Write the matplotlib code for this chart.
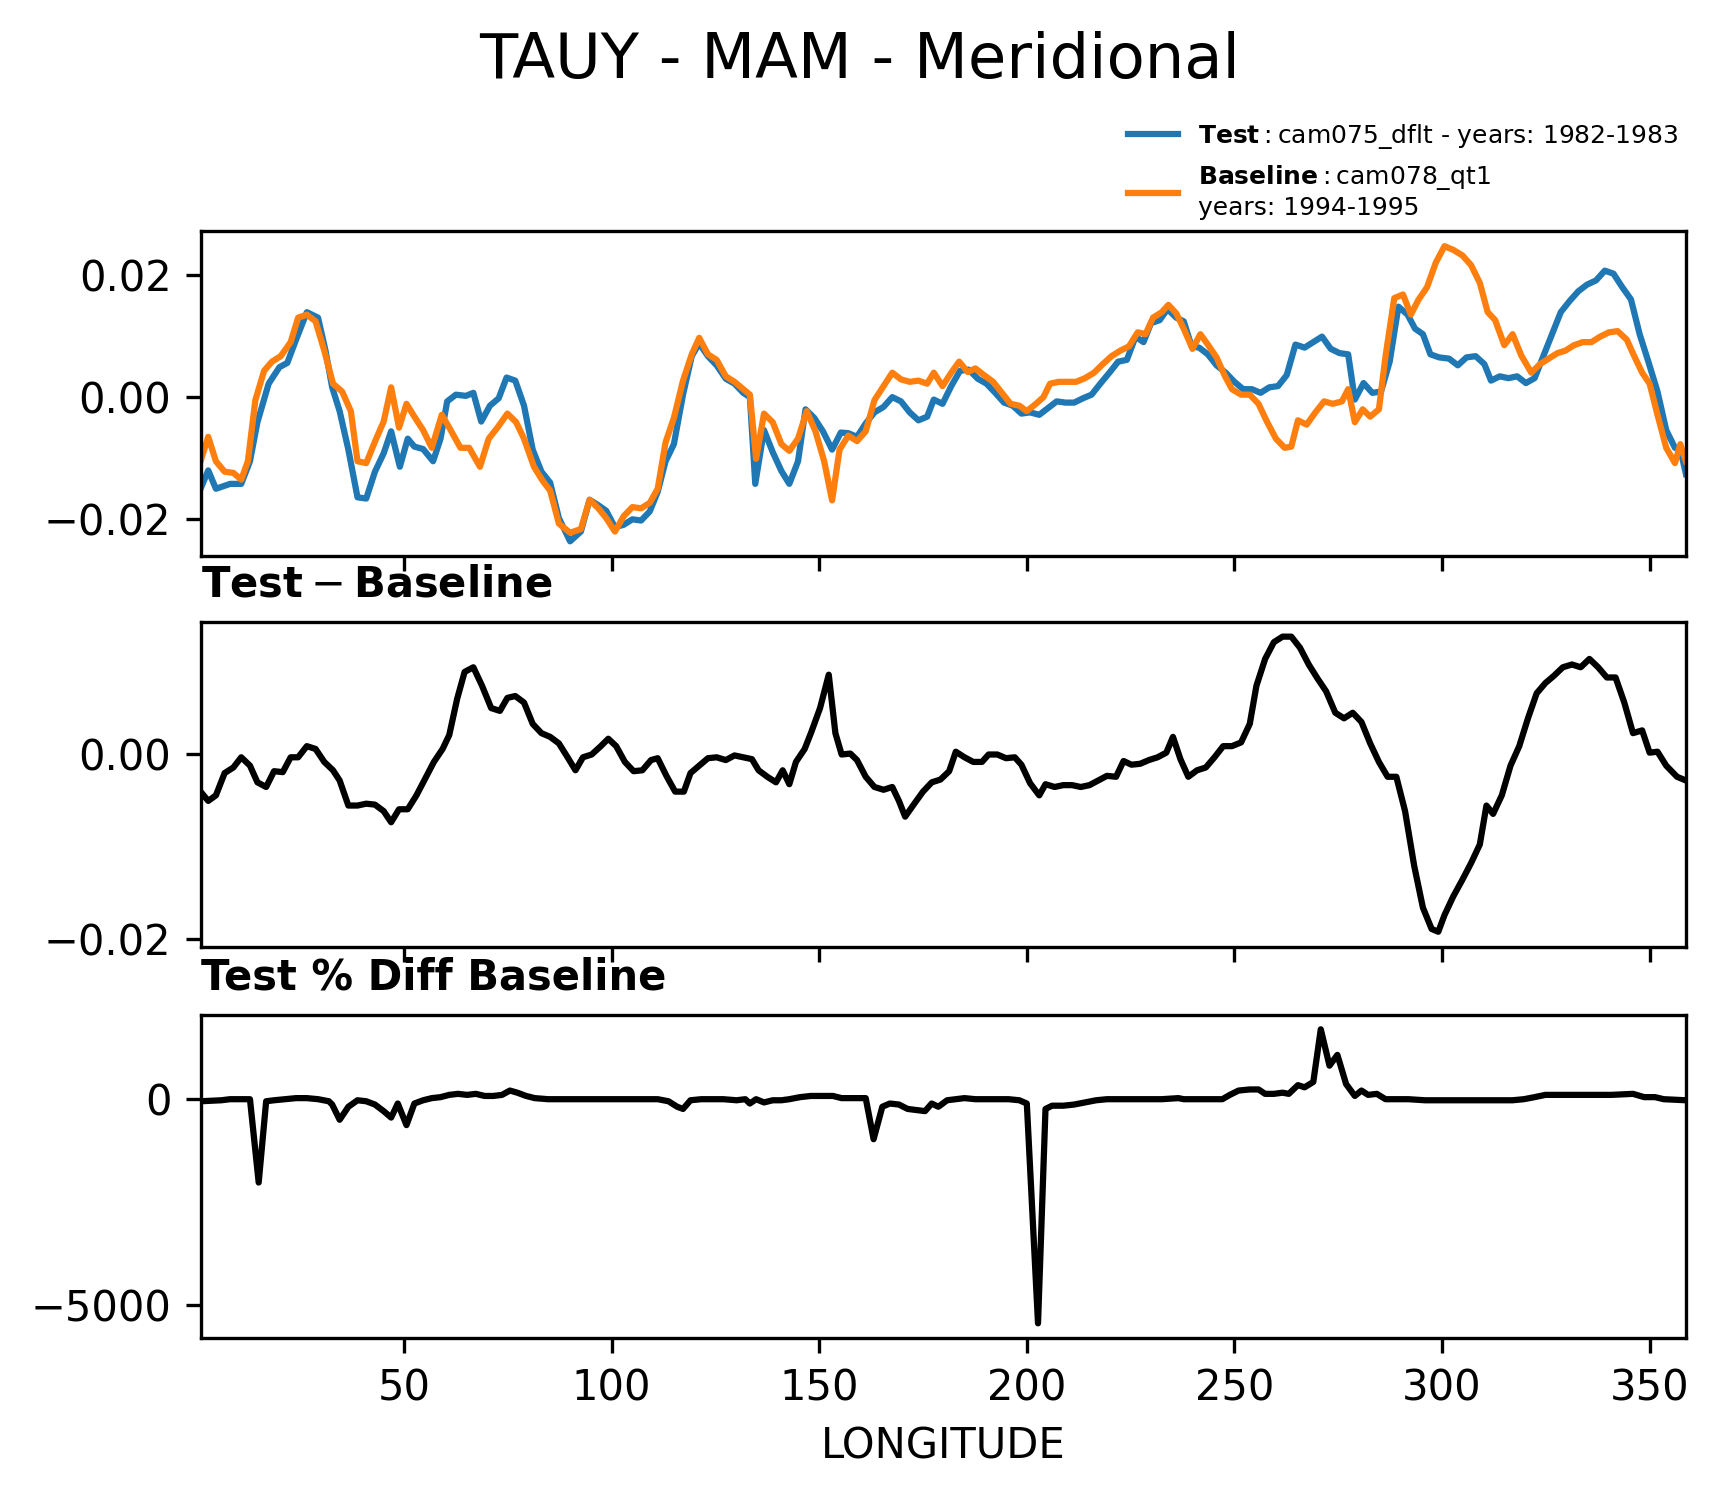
import numpy as np
import matplotlib
matplotlib.use("Agg")
import matplotlib.pyplot as plt

# ---------------- data ----------------
test_lon = [1.0, 2.85, 4.7, 8.13, 10.8, 12.9, 14.7, 17.4, 20.0, 21.9, 24.0, 26.6, 29.3, 31.1, 32.7,
            34.5, 36.6, 38.8, 40.9, 43.0, 45.1, 46.9, 49.0, 50.9, 52.5, 54.6, 57.0, 58.8, 60.4, 62.5,
            64.9, 66.7, 68.6, 70.7, 72.8, 74.7, 76.8, 78.9, 81.0, 83.1, 85.2, 87.3, 90.0, 92.6, 94.7,
            96.8, 98.7, 100.8, 102.9, 105.0, 107.1, 109.2, 111.1, 113.0, 115.0, 117.2, 119.3, 121.1,
            123.2, 125.3, 127.5, 129.6, 131.7, 133.3, 134.6, 136.7, 138.8, 140.9, 142.8, 144.9, 146.7,
            148.8, 150.9, 153.1, 155.2, 157.0, 159.1, 161.2, 163.3, 165.5, 167.6, 169.7, 171.8, 173.9,
            176.0, 177.6, 179.7, 181.8, 183.9, 186.0, 188.2, 190.3, 192.4, 194.5, 196.6, 198.7, 200.8,
            203.0, 205.1, 207.2, 209.3, 211.4, 213.5, 215.6, 217.7, 219.9, 222.0, 224.1, 226.2, 228.1,
            229.9, 232.0, 233.9, 236.0, 237.8, 239.7, 241.5, 243.6, 245.7, 247.9, 250.0, 252.1, 254.2,
            256.3, 258.4, 260.5, 262.6, 264.7, 266.9, 269.0, 271.1, 273.2, 275.3, 277.4, 279.0, 281.1,
            283.2, 285.3, 287.4, 289.5, 291.7, 293.5, 295.4, 297.2, 299.3, 301.7, 303.8, 305.9, 308.1,
            310.2, 311.8, 313.9, 316.0, 318.1, 320.2, 322.3, 324.4, 326.5, 328.6, 330.7, 332.8, 334.9,
            337.1, 339.2, 341.3, 343.4, 345.5, 347.6, 349.7, 351.9, 354.0, 356.1, 357.4, 358.75]
test_val = [-0.0150, -0.0120, -0.0150, -0.0142, -0.0142, -0.0105, -0.0041, 0.0022, 0.0049, 0.0056,
            0.0094, 0.0139, 0.0130, 0.0076, 0.0016, -0.0023, -0.0086, -0.0164, -0.0166, -0.0122,
            -0.0092, -0.0056, -0.0114, -0.0068, -0.0081, -0.0085, -0.0105, -0.0068, -0.0007, 0.0004,
            0.0002, 0.0007, -0.0040, -0.0014, -0.0002, 0.0032, 0.0027, -0.0014, -0.0086, -0.0122,
            -0.0140, -0.0198, -0.0236, -0.0220, -0.0168, -0.0177, -0.0186, -0.0213, -0.0209, -0.0200,
            -0.0202, -0.0187, -0.0155, -0.0105, -0.0077, 0.0004, 0.0067, 0.0088, 0.0067, 0.0052,
            0.0030, 0.0022, 0.0007, 0.0000, -0.0142, -0.0054, -0.0090, -0.0121, -0.0142, -0.0105,
            -0.0020, -0.0034, -0.0056, -0.0086, -0.0058, -0.0059, -0.0065, -0.0043, -0.0025, -0.0016,
            0.0000, -0.0007, -0.0025, -0.0038, -0.0032, -0.0004, -0.0011, 0.0018, 0.0043, 0.0045,
            0.0030, 0.0022, 0.0007, -0.0009, -0.0014, -0.0027, -0.0025, -0.0029, -0.0018, -0.0007,
            -0.0009, -0.0009, -0.0002, 0.0004, 0.0022, 0.0040, 0.0058, 0.0061, 0.0099, 0.0090,
            0.0121, 0.0126, 0.0144, 0.0130, 0.0124, 0.0083, 0.0081, 0.0070, 0.0052, 0.0040,
            0.0025, 0.0013, 0.0013, 0.0007, 0.0016, 0.0018, 0.0036, 0.0086, 0.0081, 0.0090,
            0.0099, 0.0079, 0.0072, 0.0070, -0.0004, 0.0023, 0.0007, 0.0009, 0.0058, 0.0148,
            0.0135, 0.0112, 0.0103, 0.0070, 0.0065, 0.0063, 0.0052, 0.0065, 0.0067, 0.0054,
            0.0027, 0.0034, 0.0031, 0.0034, 0.0023, 0.0031, 0.0067, 0.0103, 0.0139, 0.0157,
            0.0173, 0.0184, 0.0191, 0.0207, 0.0202, 0.0180, 0.0160, 0.0103, 0.0058, 0.0009,
            -0.0054, -0.0083, -0.0086, -0.0126]

base_lon = [1.0, 2.85, 4.7, 6.8, 8.9, 10.8, 12.4, 14.2, 16.3, 18.2, 20.3, 22.7, 24.5, 26.6, 28.7,
            30.8, 32.9, 35.1, 37.2, 38.8, 40.9, 43.3, 45.1, 46.9, 48.8, 50.6, 52.5, 54.6, 56.7, 59.1,
            60.9, 63.6, 65.7, 68.3, 70.4, 72.5, 74.9, 77.0, 78.9, 81.3, 83.4, 85.2, 87.3, 90.0, 92.6,
            94.7, 96.8, 98.7, 100.8, 102.9, 105.0, 107.1, 109.2, 111.1, 113.0, 115.0, 117.2, 119.3,
            121.1, 123.2, 125.3, 127.5, 129.6, 131.7, 133.3, 134.8, 136.7, 138.8, 140.9, 142.8, 144.9,
            147.0, 149.1, 151.2, 153.1, 154.9, 157.0, 159.1, 161.2, 163.3, 165.5, 167.6, 169.7, 171.8,
            173.9, 176.0, 177.6, 179.7, 181.8, 183.7, 185.8, 187.6, 189.7, 191.9, 194.0, 196.1, 198.2,
            200.0, 202.2, 204.0, 205.6, 207.7, 209.8, 211.9, 214.0, 216.2, 218.3, 220.4, 222.5, 224.6,
            226.7, 228.6, 230.4, 232.5, 234.1, 236.0, 237.8, 239.9, 241.8, 243.6, 245.7, 247.6, 249.4,
            251.6, 253.7, 255.8, 257.9, 260.0, 262.1, 263.7, 265.3, 267.4, 269.5, 271.6, 273.7, 275.9,
            277.4, 279.0, 280.9, 282.7, 284.8, 286.4, 288.5, 290.6, 292.5, 294.3, 296.4, 298.5, 300.6,
            302.7, 304.9, 307.0, 309.1, 311.0, 312.8, 315.0, 317.0, 319.1, 321.5, 323.6, 325.7, 327.8,
            329.7, 331.8, 333.9, 336.0, 338.1, 340.2, 342.3, 344.5, 346.3, 348.2, 350.0, 351.9, 354.0,
            356.1, 357.4, 358.75]
base_val = [-0.0105, -0.0065, -0.0105, -0.0122, -0.0124, -0.0135, -0.0105, -0.0005, 0.0043, 0.0058,
            0.0067, 0.0090, 0.0130, 0.0135, 0.0124, 0.0076, 0.0022, 0.0009, -0.0023, -0.0105,
            -0.0108, -0.0068, -0.0040, 0.0016, -0.0050, -0.0011, -0.0032, -0.0054, -0.0083, -0.0029,
            -0.0050, -0.0083, -0.0083, -0.0114, -0.0068, -0.0050, -0.0027, -0.0041, -0.0068, -0.0114,
            -0.0137, -0.0153, -0.0207, -0.0222, -0.0216, -0.0168, -0.0182, -0.0198, -0.0220, -0.0195,
            -0.0180, -0.0182, -0.0173, -0.0150, -0.0074, -0.0034, 0.0027, 0.0070, 0.0097, 0.0070,
            0.0061, 0.0034, 0.0025, 0.0013, 0.0004, -0.0101, -0.0027, -0.0041, -0.0077, -0.0088,
            -0.0068, -0.0023, -0.0056, -0.0105, -0.0169, -0.0086, -0.0063, -0.0072, -0.0056, -0.0005,
            0.0018, 0.0040, 0.0029, 0.0025, 0.0027, 0.0022, 0.0040, 0.0018, 0.0040, 0.0058,
            0.0041, 0.0047, 0.0036, 0.0025, 0.0007, -0.0011, -0.0014, -0.0023, -0.0011, 0.0000,
            0.0022, 0.0025, 0.0025, 0.0025, 0.0031, 0.0040, 0.0054, 0.0067, 0.0076, 0.0083,
            0.0106, 0.0103, 0.0130, 0.0139, 0.0151, 0.0137, 0.0112, 0.0079, 0.0103, 0.0086,
            0.0065, 0.0036, 0.0013, 0.0004, 0.0004, -0.0011, -0.0041, -0.0068, -0.0083, -0.0081,
            -0.0038, -0.0045, -0.0025, -0.0007, -0.0011, -0.0007, 0.0013, -0.0041, -0.0020, -0.0032,
            -0.0020, 0.0067, 0.0162, 0.0168, 0.0135, 0.0159, 0.0180, 0.0220, 0.0247, 0.0241,
            0.0232, 0.0216, 0.0187, 0.0139, 0.0126, 0.0085, 0.0103, 0.0068, 0.0040, 0.0054,
            0.0063, 0.0072, 0.0076, 0.0085, 0.0090, 0.0090, 0.0099, 0.0106, 0.0108, 0.0094,
            0.0067, 0.0040, 0.0022, -0.0029, -0.0083, -0.0108, -0.0077, -0.0105]

diff_lon = [1.0, 2.85, 4.7, 6.8, 8.9, 10.8, 12.9, 14.7, 16.8, 18.7, 20.8, 22.7, 24.5, 26.6, 28.7,
            30.8, 32.9, 34.5, 36.6, 38.8, 40.9, 43.0, 45.1, 46.9, 48.8, 50.9, 53.0, 55.1, 57.2, 59.3,
            60.9, 62.8, 64.6, 66.7, 68.8, 71.0, 73.1, 74.9, 76.8, 78.9, 81.0, 83.1, 85.2, 87.3, 89.4,
            91.3, 93.1, 95.2, 97.4, 99.2, 101.1, 103.2, 105.3, 107.4, 109.5, 111.1, 113.2, 115.3,
            117.4, 119.0, 121.1, 123.2, 125.3, 127.5, 129.6, 131.7, 133.8, 135.4, 137.5, 139.6, 141.2,
            142.8, 144.4, 146.5, 148.0, 150.2, 152.3, 153.9, 155.4, 157.5, 159.1, 161.2, 163.3, 165.5,
            167.6, 169.2, 170.7, 172.9, 175.0, 177.1, 179.2, 181.3, 182.9, 185.0, 187.1, 189.2, 190.8,
            192.9, 195.0, 197.1, 198.7, 200.8, 203.0, 204.5, 206.7, 208.8, 210.9, 213.0, 215.1, 217.2,
            219.3, 221.5, 223.3, 225.2, 227.3, 229.4, 231.5, 233.6, 235.2, 237.0, 238.9, 241.0, 243.1,
            245.2, 247.3, 249.4, 251.6, 253.7, 255.3, 257.4, 259.5, 261.6, 263.7, 265.8, 267.9, 270.0,
            272.1, 274.3, 276.4, 278.5, 280.6, 282.7, 284.8, 286.9, 289.0, 291.1, 293.3, 295.4, 297.5,
            299.1, 300.6, 302.7, 304.9, 307.0, 309.1, 310.7, 312.3, 314.4, 316.5, 318.6, 320.7, 322.8,
            324.9, 327.0, 329.1, 331.3, 333.4, 335.5, 337.6, 339.7, 341.8, 343.9, 346.0, 348.2, 350.0,
            351.9, 354.0, 356.6, 358.75]
diff_val = [-0.0041, -0.0051, -0.0045, -0.0021, -0.0015, -0.0004, -0.0013, -0.0031, -0.0036, -0.0019,
            -0.0020, -0.0004, -0.0004, 0.0008, 0.0005, -0.0009, -0.0018, -0.0029, -0.0056, -0.0056,
            -0.0054, -0.0055, -0.0062, -0.0074, -0.0060, -0.0060, -0.0045, -0.0027, -0.0009, 0.0005,
            0.0020, 0.0059, 0.0088, 0.0093, 0.0073, 0.0049, 0.0046, 0.0060, 0.0062, 0.0055,
            0.0032, 0.0022, 0.0018, 0.0011, -0.0004, -0.0018, -0.0004, -0.0001, 0.0008, 0.0016,
            0.0008, -0.0009, -0.0019, -0.0018, -0.0007, -0.0005, -0.0024, -0.0041, -0.0041, -0.0021,
            -0.0013, -0.0005, -0.0004, -0.0007, -0.0002, -0.0004, -0.0006, -0.0018, -0.0025, -0.0031,
            -0.0018, -0.0033, -0.0009, 0.0005, 0.0022, 0.0049, 0.0085, 0.0022, -0.0001, 0.0000,
            -0.0007, -0.0025, -0.0036, -0.0039, -0.0036, -0.0051, -0.0068, -0.0054, -0.0041, -0.0031,
            -0.0028, -0.0019, 0.0002, -0.0004, -0.0009, -0.0009, -0.0001, -0.0001, -0.0005, -0.0004,
            -0.0012, -0.0032, -0.0045, -0.0033, -0.0036, -0.0034, -0.0034, -0.0036, -0.0034, -0.0029,
            -0.0024, -0.0025, -0.0008, -0.0012, -0.0011, -0.0007, -0.0004, 0.0001, 0.0018, -0.0006,
            -0.0025, -0.0018, -0.0015, -0.0004, 0.0008, 0.0008, 0.0012, 0.0032, 0.0073, 0.0102,
            0.0120, 0.0126, 0.0126, 0.0114, 0.0096, 0.0081, 0.0067, 0.0044, 0.0038, 0.0044,
            0.0034, 0.0011, -0.0009, -0.0025, -0.0025, -0.0062, -0.0121, -0.0166, -0.0189, -0.0192,
            -0.0174, -0.0154, -0.0136, -0.0118, -0.0098, -0.0056, -0.0065, -0.0045, -0.0013, 0.0008,
            0.0038, 0.0065, 0.0076, 0.0084, 0.0093, 0.0096, 0.0093, 0.0102, 0.0093, 0.0082,
            0.0082, 0.0055, 0.0022, 0.0025, 0.0001, 0.0002, -0.0013, -0.0025, -0.0029]

pct_lon = [1.0, 6.0, 8.1, 10.8, 12.9, 15.0, 16.8, 18.7, 21.3, 24.0, 26.6, 29.3, 31.9, 32.7, 34.5,
           36.6, 38.8, 40.9, 43.0, 45.1, 46.9, 48.5, 50.6, 52.5, 54.6, 56.7, 58.8, 60.9, 63.0, 65.2,
           67.3, 69.4, 71.5, 73.6, 75.5, 77.3, 79.4, 81.5, 84.7, 90.0, 95.2, 100.5, 105.8, 111.1,
           113.7, 115.8, 117.2, 119.0, 121.6, 126.9, 130.1, 132.2, 133.3, 134.8, 136.7, 138.8, 140.9,
           142.8, 145.4, 148.0, 150.7, 153.3, 155.4, 157.5, 161.2, 163.1, 165.2, 167.0, 169.2, 171.3,
           173.4, 175.5, 177.1, 178.7, 180.8, 182.9, 185.0, 187.6, 190.3, 192.9, 195.6, 198.2, 200.0,
           202.7, 204.5, 206.1, 208.8, 211.4, 214.0, 216.7, 219.3, 222.0, 227.3, 232.5, 236.5, 237.8,
           243.1, 247.1, 248.9, 251.0, 253.7, 255.8, 257.4, 259.5, 261.6, 263.1, 265.3, 266.9, 269.0,
           270.8, 272.9, 274.8, 276.9, 279.0, 280.6, 282.2, 284.3, 286.4, 288.5, 291.9, 295.9, 301.2,
           306.5, 311.8, 317.0, 319.7, 322.3, 324.9, 330.2, 335.5, 340.8, 346.0, 348.7, 351.3, 353.4,
           358.75]
pct_val = [-50, -26, 0, 0, 0, -2026, -50, -26, 0, 26, 26, 0, -50, -130, -500,
           -184, -26, -50, -130, -290, -447, -105, -630, -105, -26, 26, 50, 105, 130, 105,
           130, 79, 79, 105, 210, 158, 79, 26, 0, 0, 0, 0, 0, 0,
           -50, -184, -237, -26, 0, 0, -26, 0, -105, 0, -79, -26, -26,
           0, 50, 79, 79, 79, 26, 26, 26, -973, -184, -105, -130, -237,
           -263, -290, -105, -184, -26, 0, 26, 0, 0, 0, 0, -26, -105,
           -5450, -237, -158, -158, -130, -79, -26, 0, 0, 0, 0, 26, 0,
           0, 0, 105, 210, 237, 237, 130, 130, 158, 130, 342, 289, 420,
           1700, 815, 1078, 368, 79, 210, 105, 130, 0, 0, 0, -26, -26,
           -26, -26, -26, 0, 50, 105, 105, 105, 105, 130, 50, 50, 0,
           -26]

title = "TAUY - MAM - Meridional"
test_label = r"$\mathbf{Test}:$cam075_dflt - years: 1982-1983"
base_label = r"$\mathbf{Baseline}:$cam078_qt1" + "\n" + "years: 1994-1995"
xlabel = "LONGITUDE"

# ---------------- figure ----------------
fig = plt.figure(figsize=(1720 / 300, 1496 / 300), dpi=300)
left, width = 0.1166, 0.8636
ax1 = fig.add_axes([left, 0.6283, width, 0.2170], )
ax2 = fig.add_axes([left, 0.3673, width, 0.2170], sharex=ax1)
ax3 = fig.add_axes([left, 0.1056, width, 0.2162], sharex=ax1)

lw = 1.5
ax1.plot(test_lon, test_val, color="#1f77b4", lw=lw, label=test_label)
ax1.plot(base_lon, base_val, color="#ff7f0e", lw=lw, label=base_label)
ax2.plot(diff_lon, diff_val, color="k", lw=lw)
ax3.plot(pct_lon, pct_val, color="k", lw=lw)

ax1.set_xlim(min(test_lon), max(test_lon))
ax1.set_yticks([-0.02, 0.0, 0.02])
ax2.set_yticks([-0.02, 0.0])
ax3.set_yticks([-5000, 0])
ax3.set_xticks([50, 100, 150, 200, 250, 300, 350])
for a in (ax1, ax2):
    a.tick_params(labelbottom=False)

ax2.set_title(r"$\mathbf{Test} - \mathbf{Baseline}$", loc="left", fontsize=10)
ax3.set_title("Test % Diff Baseline", loc="left", fontsize=10, fontweight="bold")
ax3.set_xlabel(xlabel, fontsize=10)

fig.suptitle(title, fontsize=15, y=0.959, va="center")
ax1.legend(loc="lower right", bbox_to_anchor=(1.01, 0.965), frameon=False, fontsize=6)

fig.savefig("out.png", dpi=300)
